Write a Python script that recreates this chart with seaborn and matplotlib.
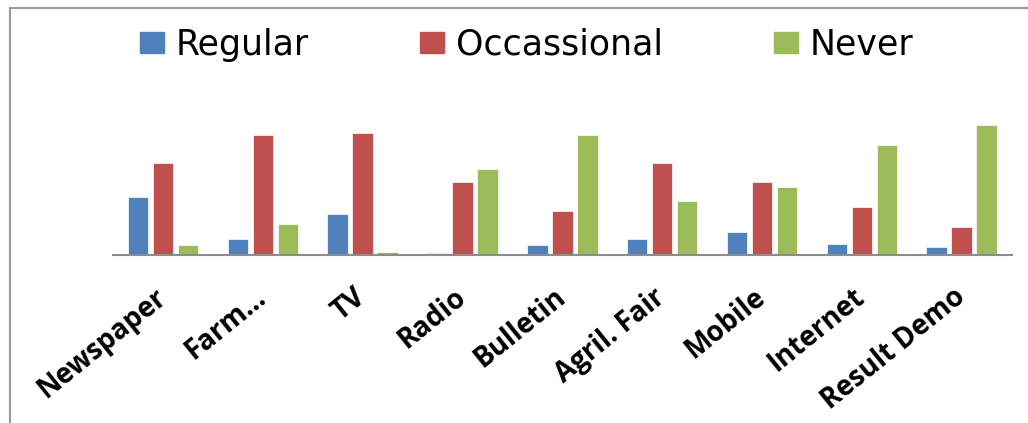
import matplotlib
matplotlib.use("Agg")
import matplotlib.pyplot as plt
import matplotlib.patches as mpatches
from matplotlib.lines import Line2D
import seaborn as sns
import pandas as pd

# values (approx. percent of respondents)
sources = ["Newspaper", "Farm\u2026", "TV", "Radio", "Bulletin",
           "Agril. Fair", "Mobile", "Internet", "Result Demo"]
regular = [35, 10, 25, 1.2, 6, 10, 14, 7, 5]
occasional = [56, 73, 74, 44, 27, 56, 44, 29, 17]
never = [6, 19, 2, 52, 73, 33, 41, 67, 79]

groups = ["Regular", "Occassional", "Never"]
colors = ["#4F81BD", "#C0504D", "#9BBB59"]

rows = []
for name, vals in zip(groups, [regular, occasional, never]):
    for src, v in zip(sources, vals):
        rows.append({"source": src, "use": name, "value": v})
df = pd.DataFrame(rows)

sns.set_style("white")
plt.rcParams["font.family"] = ["DejaVu Sans"]
plt.rcParams["text.color"] = "black"
plt.rcParams["xtick.color"] = "black"

fig = plt.figure(figsize=(10.28, 4.23), dpi=100)
ax = fig.add_axes([0.110, 0.397, 0.874, 0.39])

sns.barplot(data=df, x="source", y="value", hue="use", hue_order=groups,
            palette=colors, saturation=1, width=0.75, gap=0.18,
            edgecolor="white", linewidth=0.5, ax=ax, legend=False)

ax.set_xlim(-0.5, len(sources) - 0.5)
ax.set_ylim(0, 100)
ax.set_xlabel("")
ax.set_ylabel("")
ax.set_yticks([])
for s in ["top", "right", "left"]:
    ax.spines[s].set_visible(False)
ax.spines["bottom"].set_color("#8c8c8c")
ax.spines["bottom"].set_linewidth(1.5)
ax.tick_params(axis="x", length=0, pad=28)
plt.setp(ax.get_xticklabels(), rotation=39, ha="right", va="center",
         rotation_mode="anchor", fontsize=20, fontweight="bold",
         color="black", family=["Open Sans", "DejaVu Sans"])

handles = [mpatches.Patch(color=c, label=g) for g, c in zip(groups, colors)]
leg = fig.legend(handles=handles, loc="center left",
                 bbox_to_anchor=(0.136, 0.894), borderpad=0, borderaxespad=0,
                 ncol=3, frameon=False, handlelength=0.7, handleheight=0.58,
                 handletextpad=0.33, columnspacing=3.2,
                 prop={"family": ["DejaVu Sans"], "size": 25})
for t in leg.get_texts():
    t.set_color("black")

# chart frame (left and top edges)
fig.add_artist(Line2D([0.0097, 0.0097], [0, 0.981], color="#999999", lw=1.5,
                      transform=fig.transFigure))
fig.add_artist(Line2D([0.0097, 1.0], [0.981, 0.981], color="#999999", lw=1.5,
                      transform=fig.transFigure))

fig.savefig("out.png", dpi=100)
